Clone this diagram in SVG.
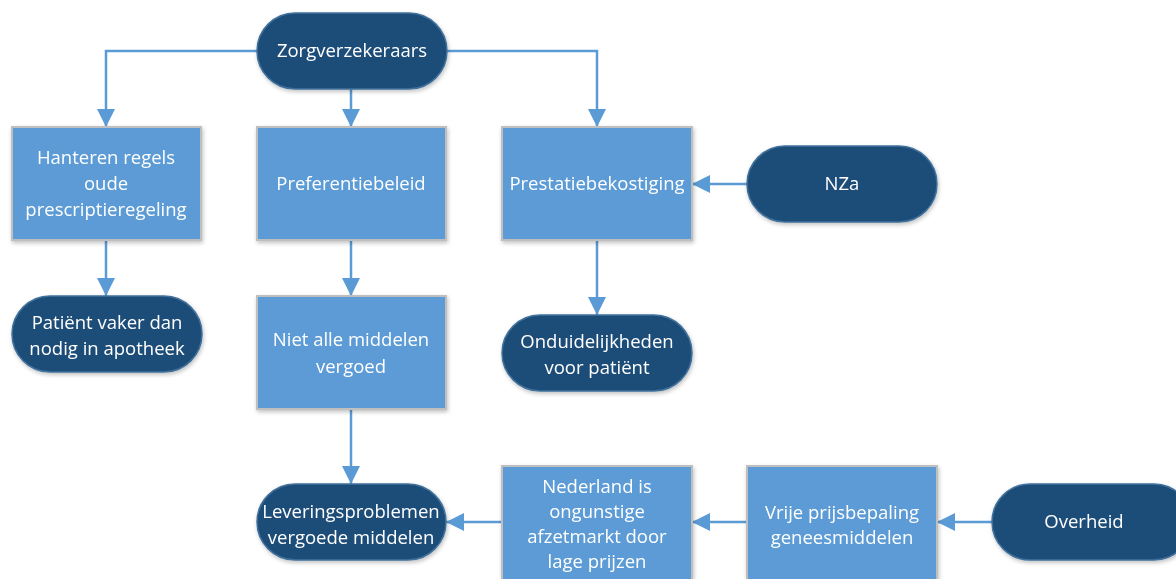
<svg xmlns="http://www.w3.org/2000/svg" width="1176" height="579" viewBox="0 0 1176 579">
<style>
.pill{fill:#1F4E79;stroke:#41719C;stroke-width:1.5}
.box{fill:#5B9BD5;stroke:#BFBFBF;stroke-width:2}
.t{font-family:"Open Sans","Liberation Sans",sans-serif;font-size:18.5px;fill:#FFFFFF;text-anchor:middle}
.c{fill:none;stroke:#5B9BD5;stroke-width:2.5}
</style>
<defs>
<marker id="ah" markerUnits="userSpaceOnUse" markerWidth="20" markerHeight="18" refX="18" refY="9" orient="auto">
<path d="M0,0 L18,9 L0,18 Z" fill="#5B9BD5"/>
</marker>
<filter id="sh" x="-10%" y="-10%" width="125%" height="130%">
<feGaussianBlur in="SourceAlpha" stdDeviation="2"/>
<feOffset dx="1" dy="2" result="b"/>
<feComponentTransfer><feFuncA type="linear" slope="0.25"/></feComponentTransfer>
<feMerge><feMergeNode/><feMergeNode in="SourceGraphic"/></feMerge>
</filter>
</defs>
<rect width="1176" height="579" fill="#FFFFFF"/>
<g id="connectors">
<path class="c" d="M257,51 H106 V127" marker-end="url(#ah)"/>
<path class="c" d="M351,89 V127" marker-end="url(#ah)"/>
<path class="c" d="M447,51 H597 V127" marker-end="url(#ah)"/>
<path class="c" d="M106,240 V296" marker-end="url(#ah)"/>
<path class="c" d="M351,240 V296" marker-end="url(#ah)"/>
<path class="c" d="M597,240 V315" marker-end="url(#ah)"/>
<path class="c" d="M747,184 H692" marker-end="url(#ah)"/>
<path class="c" d="M351,409 V484" marker-end="url(#ah)"/>
<path class="c" d="M502,522 H446" marker-end="url(#ah)"/>
<path class="c" d="M747,522 H692" marker-end="url(#ah)"/>
<path class="c" d="M992,522 H937" marker-end="url(#ah)"/>
</g>
<g id="zorgverzekeraars" filter="url(#sh)">
<rect class="pill" x="257" y="13" width="190" height="76" rx="38"/>
<text class="t" x="352" y="57">Zorgverzekeraars</text>
</g>
<g id="hanteren" filter="url(#sh)">
<rect class="box" x="12" y="127" width="189" height="113"/>
<text class="t" x="106" y="164">Hanteren regels</text>
<text class="t" x="106" y="190">oude</text>
<text class="t" x="106" y="216">prescriptieregeling</text>
</g>
<g id="patient" filter="url(#sh)">
<rect class="pill" x="12" y="296" width="190" height="76" rx="38"/>
<text class="t" x="107" y="329">Patiënt vaker dan</text>
<text class="t" x="107" y="355">nodig in apotheek</text>
</g>
<g id="preferentiebeleid" filter="url(#sh)">
<rect class="box" x="257" y="127" width="189" height="113"/>
<text class="t" x="351" y="190">Preferentiebeleid</text>
</g>
<g id="prestatiebekostiging" filter="url(#sh)">
<rect class="box" x="502" y="127" width="190" height="113"/>
<text class="t" x="597" y="190">Prestatiebekostiging</text>
</g>
<g id="nza" filter="url(#sh)">
<rect class="pill" x="747" y="146" width="190" height="76" rx="38"/>
<text class="t" x="842" y="190">NZa</text>
</g>
<g id="onduidelijkheden" filter="url(#sh)">
<rect class="pill" x="502" y="315" width="190" height="76" rx="38"/>
<text class="t" x="597" y="348">Onduidelijkheden</text>
<text class="t" x="597" y="374">voor patiënt</text>
</g>
<g id="nietalle" filter="url(#sh)">
<rect class="box" x="257" y="296" width="189" height="113"/>
<text class="t" x="351" y="346">Niet alle middelen</text>
<text class="t" x="351" y="373">vergoed</text>
</g>
<g id="leveringsproblemen" filter="url(#sh)">
<rect class="pill" x="257" y="484" width="189" height="76" rx="38"/>
<text class="t" x="351" y="518">Leveringsproblemen</text>
<text class="t" x="351" y="544">vergoede middelen</text>
</g>
<g id="nederland" filter="url(#sh)">
<rect class="box" x="502" y="466" width="190" height="120"/>
<text class="t" x="597" y="493">Nederland is</text>
<text class="t" x="597" y="518">ongunstige</text>
<text class="t" x="597" y="543">afzetmarkt door</text>
<text class="t" x="597" y="568">lage prijzen</text>
</g>
<g id="vrije" filter="url(#sh)">
<rect class="box" x="747" y="466" width="190" height="120"/>
<text class="t" x="842" y="519">Vrije prijsbepaling</text>
<text class="t" x="842" y="544">geneesmiddelen</text>
</g>
<g id="overheid" filter="url(#sh)">
<rect class="pill" x="992" y="484" width="200" height="76" rx="38"/>
<text class="t" x="1084" y="528">Overheid</text>
</g>
</svg>
